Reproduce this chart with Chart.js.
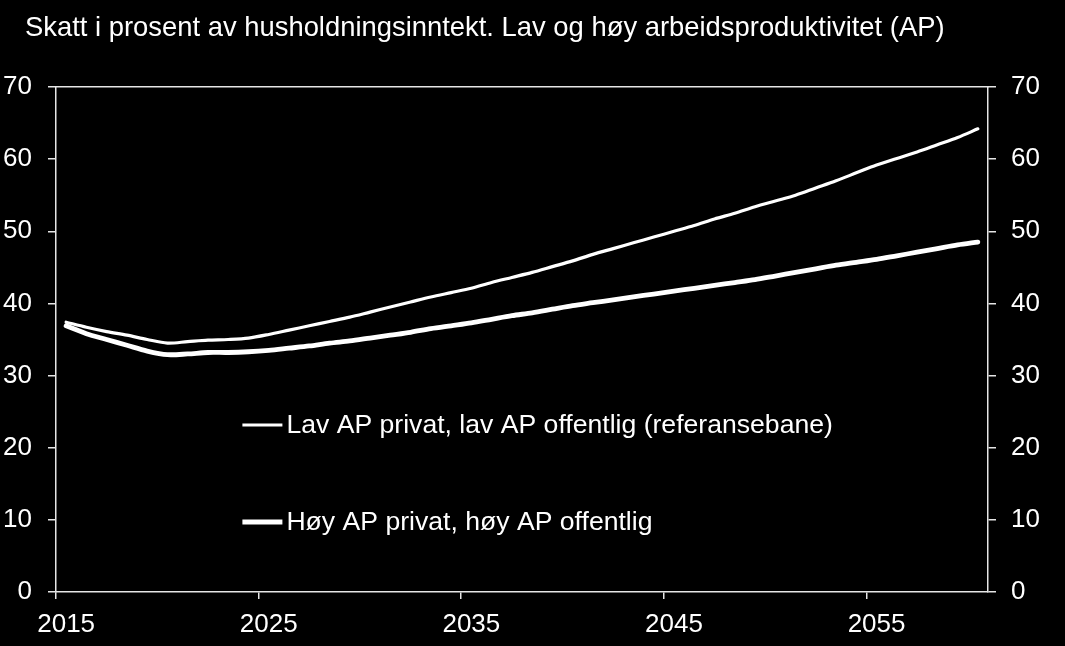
<!DOCTYPE html>
<html>
<head>
<meta charset="utf-8">
<script src="https://cdn.jsdelivr.net/npm/chart.js@4/dist/chart.umd.min.js"></script>
<style>
    html, body { margin: 0; padding: 0; background: #000; }
    #wrap { position: relative; width: 1065px; height: 646px; }
    #title {
        position: absolute; left: 25px; top: 11px;
        font-family: "Liberation Sans", Arial, sans-serif;
        font-size: 27.4px; color: #fff; white-space: nowrap;
    }
</style>
</head>
<body>
<div id="wrap">
    <canvas id="c" width="1065" height="646"></canvas>
    <div id="title">Skatt i prosent av husholdningsinntekt. Lav og høy arbeidsproduktivitet (AP)</div>
</div>
<script>
// ── Data ──────────────────────────────────────────────────
var years = [];
for (var y = 2015; y <= 2060; y++) years.push(String(y));

var seriesNames = [
    'Lav AP privat, lav AP offentlig (referansebane)',
    'Høy AP privat, høy AP offentlig'
];

// Lav AP privat, lav AP offentlig (referansebane)
var lavAP = [
    37.4, 36.7, 36.1, 35.6, 35.0, 34.5, 34.7, 34.9, 35.0, 35.2,
    35.7, 36.3, 36.9, 37.5, 38.1, 38.8, 39.5, 40.2, 40.9, 41.5,
    42.1, 42.9, 43.6, 44.3, 45.1, 45.9, 46.8, 47.6, 48.4, 49.2,
    50.0, 50.8, 51.7, 52.5, 53.4, 54.2, 55.0, 56.0, 57.0, 58.1,
    59.2, 60.1, 61.0, 62.0, 63.0, 64.2
];

// Høy AP privat, høy AP offentlig
var hoyAP = [
    36.9, 35.8, 35.0, 34.2, 33.4, 32.9, 33.0, 33.2, 33.2, 33.3,
    33.5, 33.8, 34.1, 34.5, 34.8, 35.2, 35.6, 36.0, 36.5, 36.9,
    37.3, 37.8, 38.3, 38.7, 39.2, 39.7, 40.1, 40.5, 40.9, 41.3,
    41.7, 42.1, 42.5, 42.9, 43.3, 43.8, 44.3, 44.8, 45.3, 45.7,
    46.1, 46.6, 47.1, 47.6, 48.1, 48.5
];

var yMin = 0, yMax = 70, yStep = 10;
var xLabelEvery = 10;

// ── Styles ────────────────────────────────────────────────
var FONT = '"Liberation Sans", Arial, sans-serif';
var AXIS = '#e6e6e6';
var lineWidths = [3.2, 4.8];

// legend drawn inside the plot area
var legendPlugin = {
    id: 'innerLegend',
    afterDatasetsDraw: function (chart) {
        var ctx = chart.ctx;
        var area = chart.chartArea;
        var ys = chart.scales.y;
        var rows = [23.15, 9.7];
        var x0 = area.left + (area.right - area.left) * 0.2;
        ctx.save();
        ctx.font = '26.6px ' + FONT;
        ctx.fillStyle = '#fff';
        ctx.textBaseline = 'middle';
        chart.data.datasets.forEach(function (ds, i) {
            var py = ys.getPixelForValue(rows[i]);
            ctx.strokeStyle = ds.borderColor;
            ctx.lineWidth = ds.borderWidth;
            ctx.beginPath();
            ctx.moveTo(x0, py);
            ctx.lineTo(x0 + 40, py);
            ctx.stroke();
            ctx.fillText(ds.label, x0 + 44, py + 1);
        });
        ctx.restore();
    }
};

var yAxis = function (pos, w, pad) {
    return {
        position: pos,
        min: yMin, max: yMax,
        afterFit: function (s) { s.width = w; },
        ticks: { stepSize: yStep, color: '#fff', padding: pad, font: { family: FONT, size: 26 } },
        grid: { drawOnChartArea: false, color: AXIS, lineWidth: 1.5, tickLength: 8 },
        border: { color: AXIS, width: 1.5 }
    };
};

new Chart(document.getElementById('c'), {
    type: 'line',
    data: {
        labels: years,
        datasets: [
            { label: seriesNames[0], data: lavAP, borderColor: '#fff', borderWidth: lineWidths[0], pointRadius: 0, tension: 0.3, borderCapStyle: 'round' },
            { label: seriesNames[1], data: hoyAP, borderColor: '#fff', borderWidth: lineWidths[1], pointRadius: 0, tension: 0.3, borderCapStyle: 'round' }
        ]
    },
    options: {
        responsive: false,
        animation: false,
        layout: { padding: { top: 87, left: 0, right: 0, bottom: 0 } },
        plugins: { legend: { display: false }, title: { display: false }, tooltip: { enabled: false } },
        scales: {
            x: {
                offset: true,
                afterFit: function (s) { s.height = 54; },
                ticks: {
                    autoSkip: false, maxRotation: 0, color: '#fff', padding: 10,
                    font: { family: FONT, size: 26 },
                    callback: function (v, i) { return i % xLabelEvery === 0 ? this.getLabelForValue(v) : ''; }
                },
                grid: {
                    offset: true, drawOnChartArea: false, tickLength: 7, lineWidth: 1.5,
                    color: function (c) { return c.index % xLabelEvery === 0 && c.index < years.length ? AXIS : 'rgba(0,0,0,0)'; }
                },
                border: { color: AXIS, width: 1.5 }
            },
            xTop: {
                type: 'category',
                position: 'top',
                afterFit: function (s) { s.height = 0; },
                ticks: { display: false },
                grid: { display: false },
                border: { color: AXIS, width: 1.5 }
            },
            y: yAxis('left', 56, 16),
            y2: yAxis('right', 77, 15)
        }
    },
    plugins: [legendPlugin]
});
</script>
</body>
</html>
